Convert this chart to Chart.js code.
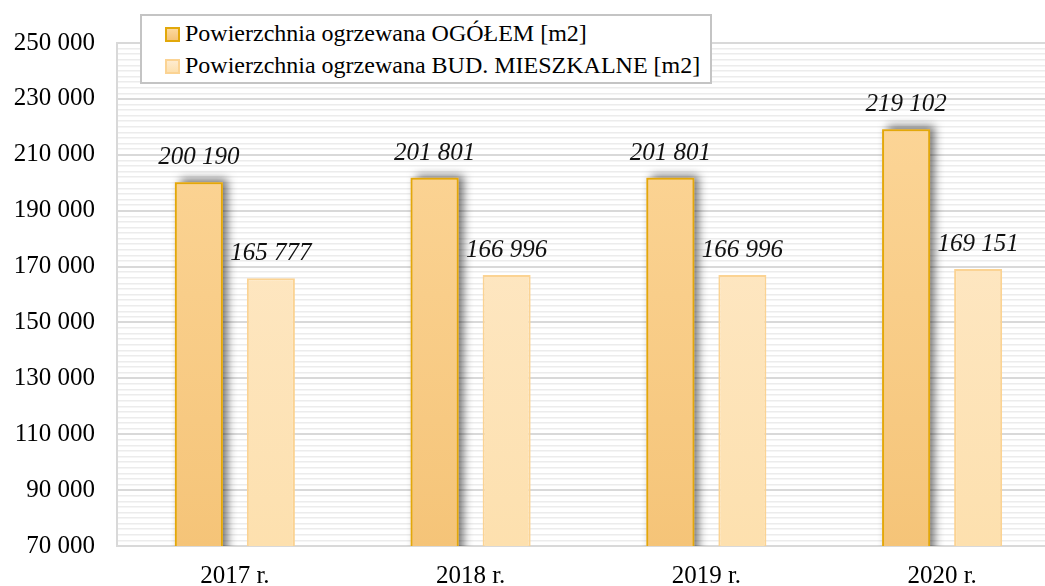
<!DOCTYPE html>
<html>
<head>
<meta charset="utf-8">
<script src="https://cdn.jsdelivr.net/npm/chart.js@4"></script>
<style>
  html, body { margin: 0; padding: 0; background: #fff; overflow: hidden; }
  #wrap { position: relative; width: 1060px; height: 586px; }
  #legenda {
    position: absolute; left: 140px; top: 14px; width: 568px; height: 66px;
    background: #fff; border: 2px solid #c4c4c4;
    font-family: "Liberation Serif", serif; font-size: 24px; color: #000;
  }
  .poz { position: absolute; left: 23px; height: 32px; line-height: 32px; white-space: nowrap; }
  .kw { display: inline-block; width: 11px; height: 11px; margin-right: 5px; vertical-align: -1px; }
</style>
</head>
<body>
<div id="wrap">
  <canvas id="wykres"></canvas>
  <div id="legenda"></div>
</div>
<script>
// dane
const lata = ['2017 r.', '2018 r.', '2019 r.', '2020 r.'];
const ogolem = [200190, 201801, 201801, 219102];
const mieszkalne = [165777, 166996, 166996, 169151];
const nazwy = ['Powierzchnia ogrzewana OGÓŁEM [m2]', 'Powierzchnia ogrzewana BUD. MIESZKALNE [m2]'];
const osY = { min: 70000, max: 250000, krok: 20000, podzialka: 2000 };

const kolory = [
  { gora: '#fdd89c', dol: '#f5c478', ramka: '#e2a80a' },
  { gora: '#feebcf', dol: '#fde0ae', ramka: '#fbd393' }
];

const font = '"Liberation Serif", serif';

function formatuj(v) {
  return String(v).replace(/\B(?=(\d{3})+(?!\d))/g, ' ');
}

function gradient(ctx, chartArea, k) {
  if (!chartArea) return k.dol;
  const g = ctx.createLinearGradient(0, chartArea.top, 0, chartArea.bottom);
  g.addColorStop(0, k.gora);
  g.addColorStop(1, k.dol);
  return g;
}

// legenda jako html nad wykresem
const legenda = document.getElementById('legenda');
nazwy.forEach((n, i) => {
  const d = document.createElement('div');
  d.className = 'poz';
  d.style.top = (1 + i * 32) + 'px';
  const kw = document.createElement('span');
  kw.className = 'kw';
  kw.style.background = `linear-gradient(${kolory[i].gora}, ${kolory[i].dol})`;
  kw.style.border = `2px solid ${kolory[i].ramka}`;
  d.appendChild(kw);
  d.appendChild(document.createTextNode(n));
  legenda.appendChild(d);
});

// cien pod slupkami pierwszej serii (rysowany przed seriami)
const cien = {
  id: 'cien',
  beforeDatasetsDraw(chart) {
    const c = chart.ctx;
    const a = chart.chartArea;
    c.save();
    c.beginPath();
    c.rect(a.left, a.top - 20, a.right - a.left, a.bottom - a.top + 20);
    c.clip();
    c.shadowColor = 'rgba(0,0,0,0.55)';
    c.shadowBlur = 9;
    c.shadowOffsetX = 5;
    c.shadowOffsetY = -3;
    c.fillStyle = kolory[0].dol;
    chart.getDatasetMeta(0).data.forEach(bar => {
      c.fillRect(bar.x - bar.width / 2, bar.y, bar.width, bar.base - bar.y);
    });
    c.restore();
  }
};

// etykiety wartosci nad slupkami
const etykiety = {
  id: 'etykiety',
  afterDatasetsDraw(chart) {
    const c = chart.ctx;
    c.save();
    c.font = 'italic 25px ' + font;
    c.fillStyle = '#111';
    c.textAlign = 'center';
    c.textBaseline = 'alphabetic';
    chart.data.datasets.forEach((ds, i) => {
      chart.getDatasetMeta(i).data.forEach((bar, j) => {
        c.fillText(formatuj(ds.data[j]), bar.x, bar.y - 18);
      });
    });
    c.restore();
  }
};

new Chart(document.getElementById('wykres'), {
  type: 'bar',
  data: {
    labels: lata,
    datasets: [ogolem, mieszkalne].map((dane, i) => ({
      label: nazwy[i],
      data: dane,
      backgroundColor: ctx => gradient(ctx.chart.ctx, ctx.chart.chartArea, kolory[i]),
      borderColor: kolory[i].ramka,
      borderWidth: 2,
      categoryPercentage: 0.611,
      barPercentage: 0.667
    }))
  },
  options: {
    responsive: true,
    maintainAspectRatio: false,
    animation: false,
    layout: { padding: { top: 43, left: 0, right: 0, bottom: 0 } },
    plugins: { legend: { display: false }, tooltip: { enabled: false } },
    scales: {
      x: {
        grid: { display: false },
        border: { display: true, color: '#d9d9d9', width: 2 },
        ticks: { color: '#000', font: { family: font, size: 25, lineHeight: 1 }, padding: 10 },
        afterFit: s => { s.height = 40; }
      },
      y: {
        min: osY.min,
        max: osY.max,
        border: { display: true, color: '#d9d9d9', width: 2 },
        grid: {
          drawTicks: false,
          color: ctx => (ctx.tick.value - osY.min) % osY.krok === 0 ? '#d9d9d9' : '#ececec',
          lineWidth: ctx => (ctx.tick.value - osY.min) % osY.krok === 0 ? 2 : 1.5
        },
        ticks: {
          stepSize: osY.podzialka,
          autoSkip: false,
          color: '#000',
          font: { family: font, size: 25 },
          padding: 22,
          callback: v => (v - osY.min) % osY.krok === 0 ? formatuj(v) : ''
        },
        afterFit: s => { s.width = 117; }
      }
    }
  },
  plugins: [cien, etykiety]
});
</script>
</body>
</html>
